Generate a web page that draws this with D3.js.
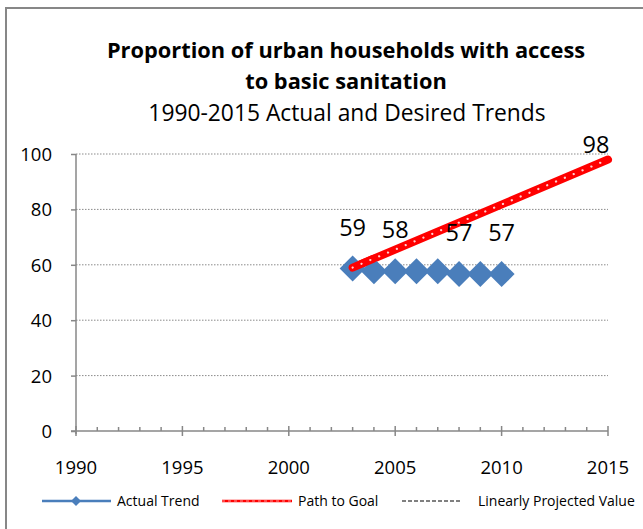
<!DOCTYPE html>
<html><head><meta charset="utf-8">
<script src="https://cdn.jsdelivr.net/npm/d3@7"></script>
<style>
body{margin:0;background:#fff;}
svg{display:block;font-family:"Open Sans","Noto Sans",sans-serif;}
</style></head>
<body>
<script>
// ---- data ----
const actualYears = [2003, 2004, 2005, 2006, 2007, 2008, 2009, 2010];
const actualValues = [59, 58, 58, 58, 58, 57, 57, 57];
const actualLabelYears = [2003, 2005, 2008, 2010];
const goalYears = [2003, 2015];
const goalValues = [59, 98];
const goalLabelYears = [2015];
const xTicks = [1990, 1995, 2000, 2005, 2010, 2015];
const yTicks = [0, 20, 40, 60, 80, 100];
const titleLines = ["Proportion of urban households with access", "to basic sanitation"];
const subtitle = "1990-2015 Actual and Desired Trends";
const legendNames = ["Actual Trend", "Path to Goal", "Linearly Projected Value"];

const W = 643, H = 529;
const FONT = "'Open Sans','Noto Sans',sans-serif";
const svg = d3.select("body").append("svg").attr("width", W).attr("height", H);

// frame
svg.append("path").attr("d", `M6,${H} L6,8 L${W},8`).attr("fill","none")
  .attr("stroke","#878787").attr("stroke-width",2);

const x = d3.scaleLinear().domain([1990, 2015]).range([76, 608]);
const y = d3.scaleLinear().domain([0, 100]).range([431, 154]);

// titles
svg.append("text").attr("x", 346).attr("y", 58).attr("text-anchor","middle")
  .attr("font-weight","bold").attr("font-size",21.8).attr("fill","#000").text(titleLines[0]);
svg.append("text").attr("x", 346).attr("y", 89).attr("text-anchor","middle")
  .attr("font-weight","bold").attr("font-size",21.8).attr("fill","#000").text(titleLines[1]);
svg.append("text").attr("x", 347).attr("y", 121).attr("text-anchor","middle")
  .attr("font-size",22.8).attr("fill","#000").text(subtitle);

// gridlines
svg.append("g").selectAll("line").data(yTicks.filter(d=>d>0)).join("line")
  .attr("x1", x(1990)).attr("x2", x(2015)).attr("y1", d=>y(d)).attr("y2", d=>y(d))
  .attr("stroke","#8a8a8a").attr("stroke-width",1).attr("stroke-dasharray","1.5,1.5");

// y axis
const yAxis = svg.append("g").attr("transform", `translate(${x(1990)},0)`)
  .call(d3.axisLeft(y).tickValues(yTicks).tickSize(5).tickPadding(19));
yAxis.select(".domain").attr("stroke","#878787").attr("stroke-width",1.5)
  .attr("d", `M0,${y(100)}V${y(0)+3}`);
yAxis.selectAll(".tick line").attr("stroke","#878787").attr("stroke-width",1.5);
yAxis.selectAll(".tick text").attr("font-size",18.5).attr("fill","#000")
  .attr("font-family",FONT).attr("dy","0.35em");

// x axis
const xg = svg.append("g");
xg.append("line").attr("x1", x(1990)-5).attr("x2", x(2015)).attr("y1", y(0)).attr("y2", y(0))
  .attr("stroke","#878787").attr("stroke-width",1.5);
xg.selectAll(".minor").data(d3.range(1990, 2016)).join("line")
  .attr("x1", d=>x(d)).attr("x2", d=>x(d))
  .attr("y1", d=> d%5===0 ? y(0)-5 : y(0)-4).attr("y2", d=> d%5===0 ? y(0)+5 : y(0))
  .attr("stroke","#878787").attr("stroke-width",1.5);
xg.selectAll(".lbl").data(xTicks).join("text")
  .attr("x", d=>x(d)).attr("y", 474).attr("text-anchor","middle")
  .attr("font-size",18.5).attr("fill","#000").text(d=>d);

// path to goal
const gp = goalYears.map((d,i)=>[x(d), y(goalValues[i])]);
svg.append("path").attr("d", d3.line()(gp)).attr("stroke","#ff0000")
  .attr("stroke-width",8).attr("stroke-linecap","round").attr("fill","none");
svg.append("path").attr("d", d3.line()(gp)).attr("stroke","#ffd0d0")
  .attr("stroke-width",2.2).attr("stroke-linecap","round").attr("stroke-dasharray","0.1,9.5")
  .attr("fill","none");

// actual trend diamonds
const ap = actualYears.map((d,i)=>[x(d), y(actualValues[i])]);
svg.append("path").attr("d", d3.line()(ap)).attr("stroke","#4a7ebb").attr("stroke-width",2.5).attr("fill","none");
const diamond = s => `M0,${-s}L${s},0L0,${s}L${-s},0Z`;
svg.append("g").selectAll("path").data(ap).join("path")
  .attr("transform", d=>`translate(${d[0]},${d[1]+1})`)
  .attr("d", diamond(13)).attr("fill","#4a7ebb");

// redraw start of path over first diamond
const t = 0.08;
const seg = [gp[0], [gp[0][0]+(gp[1][0]-gp[0][0])*t, gp[0][1]+(gp[1][1]-gp[0][1])*t]];
svg.append("path").attr("d", d3.line()(seg))
  .attr("stroke","#ff0000").attr("stroke-width",8).attr("stroke-linecap","round").attr("fill","none");
svg.append("path").attr("d", d3.line()(seg))
  .attr("stroke","#ffd0d0").attr("stroke-width",2.2).attr("stroke-linecap","round").attr("stroke-dasharray","0.1,9.5")
  .attr("fill","none");

// data labels
svg.append("g").selectAll("text").data(actualLabelYears).join("text")
  .attr("x", d=>x(d)).attr("y", d=>y(actualValues[actualYears.indexOf(d)])-32)
  .attr("text-anchor","middle").attr("font-size",23.5).attr("fill","#000")
  .text(d=>actualValues[actualYears.indexOf(d)]);
svg.append("g").selectAll("text").data(goalLabelYears).join("text")
  .attr("x", d=>x(d)-12).attr("y", d=>y(goalValues[goalYears.indexOf(d)])-7)
  .attr("text-anchor","middle").attr("font-size",23.5).attr("fill","#000")
  .text(d=>goalValues[goalYears.indexOf(d)]);

// legend
const ly = 501;
const lg = svg.append("g").attr("font-size",14);
lg.append("line").attr("x1",42).attr("x2",111).attr("y1",ly).attr("y2",ly).attr("stroke","#4a7ebb").attr("stroke-width",2.5);
lg.append("path").attr("transform",`translate(76,${ly})`).attr("d",diamond(5)).attr("fill","#4a7ebb");
lg.append("text").attr("x",117).attr("y",ly+5).text(legendNames[0]);
lg.append("line").attr("x1",222).attr("x2",292).attr("y1",ly).attr("y2",ly).attr("stroke","#ff0000").attr("stroke-width",2.5);
lg.append("line").attr("x1",222).attr("x2",292).attr("y1",ly).attr("y2",ly).attr("stroke","#ffbcbc").attr("stroke-width",0.8).attr("stroke-dasharray","3,3");
lg.append("text").attr("x",298).attr("y",ly+5).text(legendNames[1]);
lg.append("line").attr("x1",402).attr("x2",461).attr("y1",ly).attr("y2",ly).attr("stroke","#000").attr("stroke-width",1).attr("stroke-dasharray","4,2");
lg.append("text").attr("x",478).attr("y",ly+5).text(legendNames[2]);
</script>
</body></html>
